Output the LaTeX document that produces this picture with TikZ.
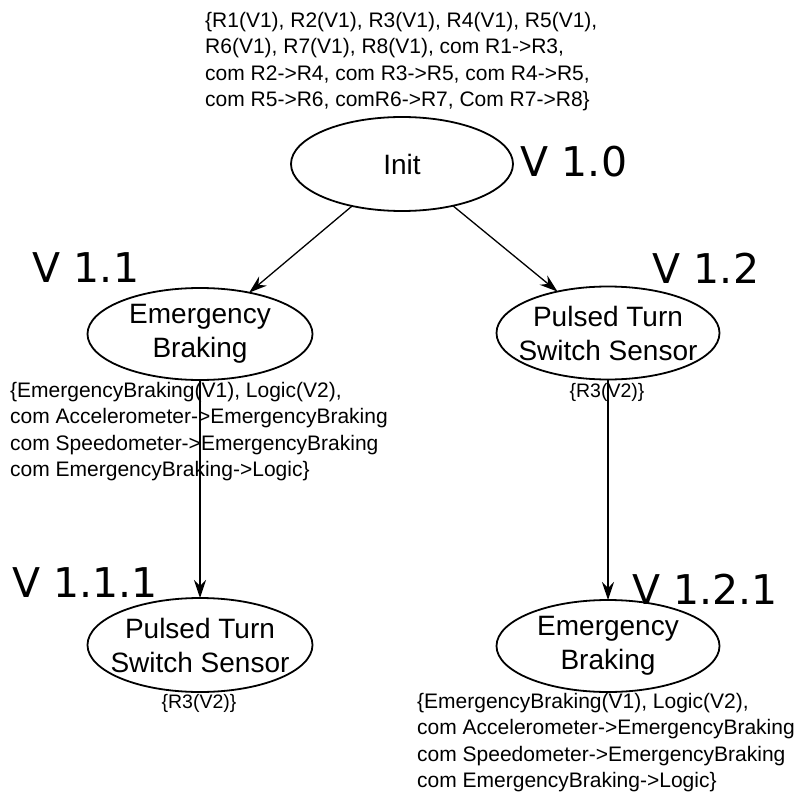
\documentclass[tikz,border=0pt]{standalone}
\usepackage{fontspec}
\setmainfont{Liberation Sans}
\newfontfamily\vfont{DejaVu Sans}
\usetikzlibrary{shapes.geometric,arrows.meta}
\begin{document}
\begin{tikzpicture}[x=1pt,y=-1pt,
  state/.style={ellipse,draw,line width=1.8pt,inner sep=0pt,outer sep=0pt},
  stxt/.style={align=center,inner sep=0pt,font=\fontsize{28}{34}\selectfont},
  ver/.style={font=\vfont\fontsize{41}{41}\selectfont,inner sep=0pt},
  note/.style={align=left,inner sep=0pt,anchor=west,font=\fontsize{21}{26.3}\selectfont},
  small/.style={inner sep=0pt,font=\fontsize{19.5}{20}\selectfont},
  conn/.style={line width=1.3pt,-{Stealth[length=18pt,width=12pt,inset=6pt]}}]
\useasboundingbox (0,0) rectangle (802,794);

% states
\node[state,minimum width=222pt,minimum height=94pt,
  label={[stxt]center:Init}] (init) at (402,164) {};
\node[state,minimum width=225pt,minimum height=92pt,
  label={[stxt]center:Emergency\\Braking}] (eb1) at (200,334) {};
\node[state,minimum width=223pt,minimum height=93pt,
  label={[stxt]center:Pulsed Turn\\Switch Sensor}] (pt1) at (608,333) {};
\node[state,minimum width=225pt,minimum height=94pt,
  label={[stxt]center:Pulsed Turn\\Switch Sensor}] (pt2) at (200,645) {};
\node[state,minimum width=223pt,minimum height=92pt,
  label={[stxt]center:Emergency\\Braking}] (eb2) at (608,646) {};

% version labels
\node[ver] (v10) at (574,162) {V 1.0};
\node[ver] (v11) at (86,268) {V 1.1};
\node[ver] (v12) at (706,268) {V 1.2};
\node[ver] (v111) at (85,583) {V 1.1.1};
\node[ver] (v121) at (705,589) {V 1.2.1};

% annotations
\node[note] (n0) at (205,61.5) {\{R1(V1), R2(V1), R3(V1), R4(V1), R5(V1),\\R6(V1), R7(V1), R8(V1), com R1->R3,\\com R2->R4, com R3->R5, com R4->R5,\\com R5->R6, comR6->R7, Com R7->R8\}};
\node[note] (n1) at (10,431.5) {\{EmergencyBraking(V1), Logic(V2),\\com Accelerometer->EmergencyBraking\\com Speedometer->EmergencyBraking\\com EmergencyBraking->Logic\}};
\node[note] (n2) at (417,742.5) {\{EmergencyBraking(V1), Logic(V2),\\com Accelerometer->EmergencyBraking\\com Speedometer->EmergencyBraking\\com EmergencyBraking->Logic\}};
\node[small] (r1) at (607,392) {\{R3(V2)\}};
\node[small] (r2) at (199,703) {\{R3(V2)\}};

% connectors
\draw[conn] (init) -- (eb1);
\draw[conn] (init) -- (pt1);
\draw[conn] (eb1) -- (pt2);
\draw[conn] (pt1) -- (eb2);
\end{tikzpicture}
\end{document}
